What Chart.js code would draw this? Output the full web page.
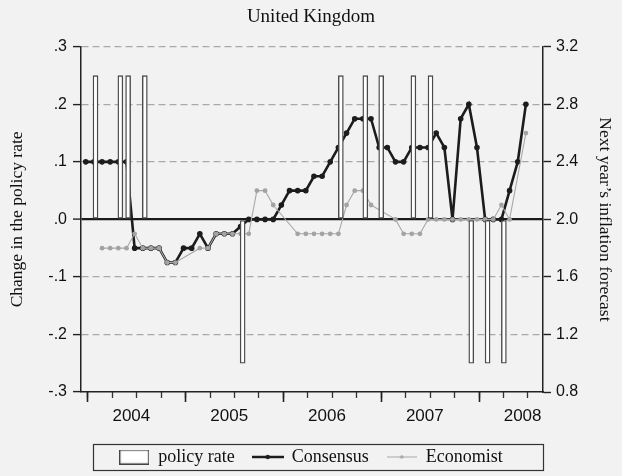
<!DOCTYPE html>
<html><head><meta charset="utf-8">
<script src="https://cdn.jsdelivr.net/npm/chart.js@4.4.1/dist/chart.umd.min.js"></script>
<style>html,body{margin:0;padding:0;background:#f2f2f2;}canvas{display:block;}</style>
</head><body>
<canvas id="c" width="622" height="476"></canvas>
<script>
// ---- data (month index: 0 = Jan 2004) ----
const yearLabels = ['2004','2005','2006','2007','2008'];
const leftTickValues = [-0.3,-0.2,-0.1,0,0.1,0.2,0.3];
const leftTickLabels = ['-.3','-.2','-.1','.0','.1','.2','.3'];
const rightTickValues = [0.8,1.2,1.6,2.0,2.4,2.8,3.2];
const rightTickLabels = ['0.8','1.2','1.6','2.0','2.4','2.8','3.2'];

const policyMonths = [1.2,4.25,5.2,7.25,19.25,31.3,34.3,36.25,40.2,42.3,47.3,49.3,51.3];
const policyChange = [0.25,0.25,0.25,0.25,-0.25,0.25,0.25,0.25,0.25,0.25,-0.25,-0.25,-0.25];

const consensusMonths = [0,1,2,3,4,5,6,7,8,9,10,11,12,13,14,15,16,17,18,19,20,21,22,23,24,25,26,27,28,29,30,31,32,33,34,35,36,37,38,39,40,41,42,43,44,45,46,47,48,49,50,51,52,53,54];
const consensusValues = [2.4,2.4,2.4,2.4,2.4,2.4,1.8,1.8,1.8,1.8,1.7,1.7,1.8,1.8,1.9,1.8,1.9,1.9,1.9,1.95,2.0,2.0,2.0,2.0,2.1,2.2,2.2,2.2,2.3,2.3,2.4,2.5,2.6,2.7,2.7,2.7,2.5,2.5,2.4,2.4,2.5,2.5,2.5,2.6,2.5,2.0,2.7,2.8,2.5,2.0,2.0,2.0,2.2,2.4,2.8];

const economistMonths = [2,3,4,5,6,7,8,9,10,11,14,15,16,17,18,19,20,21,22,23,26,27,28,29,30,31,32,33,34,35,38,39,40,41,42,43,44,45,46,47,48,49,50,51,52,54];
const economistValues = [1.8,1.8,1.8,1.8,1.9,1.8,1.8,1.8,1.7,1.7,1.8,1.8,1.9,1.9,1.9,1.9,1.9,2.2,2.2,2.1,1.9,1.9,1.9,1.9,1.9,1.9,2.1,2.2,2.2,2.1,2.0,1.9,1.9,1.9,2.0,2.0,2.0,2.0,2.0,2.0,2.0,2.0,2.0,2.1,2.0,2.6];

const legendNames = ['policy rate','Consensus','Economist'];

// ---- styling / layout ----
const X_MIN = -0.58, X_MAX = 56.1;
const YEAR_START = 0.25;       // position of 1 Jan 2004 on the month axis
const LABEL_OFFSET = 5.35;     // year label position within the year
const SERIF = 'Liberation Serif';
const SANS = 'Liberation Sans';

Chart.defaults.font.family = SANS;
Chart.defaults.color = '#111';

function makeIcon(w, h, draw) {
  const c = document.createElement('canvas');
  c.width = w; c.height = h;
  draw(c.getContext('2d'));
  return c;
}
const icons = [
  makeIcon(30, 15, g => { g.fillStyle = '#ffffff'; g.fillRect(1,1,28,13); g.strokeStyle = '#444'; g.lineWidth = 1.2; g.strokeRect(0.6,0.6,28.8,13.8); }),
  makeIcon(32, 8, g => { g.strokeStyle = '#1c1c1c'; g.lineWidth = 2.5; g.beginPath(); g.moveTo(0,4); g.lineTo(32,4); g.stroke(); g.fillStyle = '#1c1c1c'; g.beginPath(); g.arc(16,4,2.2,0,7); g.fill(); }),
  makeIcon(30, 8, g => { g.strokeStyle = '#a8a8a8'; g.lineWidth = 1; g.beginPath(); g.moveTo(0,4); g.lineTo(30,4); g.stroke(); g.fillStyle = '#a8a8a8'; g.beginPath(); g.arc(15,4,1.8,0,7); g.fill(); })
];

const isZero = c => c.tick && Math.abs(c.tick.value) < 1e-9;
const isBottom = c => c.tick && Math.abs(c.tick.value - leftTickValues[0]) < 1e-9;

const legendFrame = {
  id: 'legendFrame',
  afterDraw(chart) {
    const lg = chart.legend;
    const hb = lg && lg.legendHitBoxes;
    if (!hb || !hb.length) return;
    const ctx = chart.ctx;
    const top = Math.min(...hb.map(h => h.top)) - 4;
    const bottom = Math.max(...hb.map(h => h.top + h.height)) + 4;
    const left = chart.chartArea.left + 12;
    const right = chart.chartArea.right;
    ctx.save();
    ctx.strokeStyle = '#333';
    ctx.lineWidth = 1.2;
    ctx.strokeRect(Math.round(left) + 0.5, Math.round(top) + 0.5, Math.round(right - left), Math.round(bottom - top));
    ctx.restore();
  }
};

const xCommon = { type: 'linear', position: 'bottom', min: X_MIN, max: X_MAX, offset: false };

new Chart(document.getElementById('c'), {
  type: 'bar',
  data: {
    datasets: [
      {
        type: 'bar', label: legendNames[0], order: 0,
        data: policyMonths.map((m, i) => ({x: m, y: policyChange[i]})),
        xAxisID: 'x', yAxisID: 'y',
        backgroundColor: '#ffffff', borderColor: '#4a4a4a', borderWidth: 1.4,
        borderSkipped: false, barThickness: 5
      },
      {
        type: 'line', label: legendNames[2], order: 1,
        data: economistMonths.map((m, i) => ({x: m, y: economistValues[i]})),
        xAxisID: 'x', yAxisID: 'y2',
        borderColor: '#a8a8a8', backgroundColor: '#a8a8a8', borderWidth: 1.1,
        pointRadius: 2.4, pointBorderWidth: 0, pointBackgroundColor: '#a3a3a3',
        tension: 0, fill: false
      },
      {
        type: 'line', label: legendNames[1], order: 2,
        data: consensusMonths.map((m, i) => ({x: m, y: consensusValues[i]})),
        xAxisID: 'x', yAxisID: 'y2',
        borderColor: '#1c1c1c', backgroundColor: '#1c1c1c', borderWidth: 2.6,
        pointRadius: 2.8, pointBorderWidth: 0, pointBackgroundColor: '#1c1c1c',
        tension: 0, fill: false
      }
    ]
  },
  options: {
    responsive: false,
    animation: false,
    devicePixelRatio: 1,
    layout: { padding: 0 },
    events: [],
    plugins: {
      tooltip: { enabled: false },
      title: {
        display: true, text: 'United Kingdom', color: '#111',
        font: { family: SERIF, size: 19, weight: 'normal' },
        padding: { top: 6, bottom: 18 }
      },
      legend: {
        display: true, position: 'bottom',
        labels: {
          usePointStyle: true, pointStyleWidth: 30, padding: 18, color: '#111',
          font: { family: SERIF, size: 18 },
          generateLabels: () => legendNames.map((t, i) => ({
            text: t, pointStyle: icons[i], fillStyle: 'transparent', strokeStyle: 'transparent',
            lineWidth: 0, hidden: false, datasetIndex: i, fontColor: '#111'
          }))
        }
      }
    },
    scales: {
      x: Object.assign({}, xCommon, {
        weight: 1,
        afterBuildTicks: s => { s.ticks = yearLabels.map((y, i) => ({ value: YEAR_START + 12 * i + LABEL_OFFSET })); },
        afterFit: s => { s.height = 38; },
        ticks: { autoSkip: false, maxRotation: 0, padding: 14, font: { family: SANS, size: 17 }, color: '#111',
                 callback: (v, i) => yearLabels[i] },
        grid: { display: false, drawTicks: false, offset: false },
        border: { display: true, color: '#222', width: 1.5 }
      }),
      xq: Object.assign({}, xCommon, {
        weight: 0,
        afterBuildTicks: s => { const t = []; for (let v = YEAR_START; v <= X_MAX; v += 3) t.push({ value: v }); s.ticks = t; },
        afterFit: s => { s.height = 0; },
        ticks: { display: false },
        grid: { display: true, offset: false, drawOnChartArea: false, drawTicks: true, tickLength: 6, tickColor: '#333', tickWidth: 1.3 },
        border: { display: false }
      }),
      xy: Object.assign({}, xCommon, {
        weight: 0.5,
        afterBuildTicks: s => { const t = []; for (let v = YEAR_START; v <= X_MAX; v += 12) t.push({ value: v }); s.ticks = t; },
        afterFit: s => { s.height = 0; },
        ticks: { display: false },
        grid: { display: true, offset: false, drawOnChartArea: false, drawTicks: true, tickLength: 10, tickColor: '#222', tickWidth: 1.6 },
        border: { display: false }
      }),
      y: {
        type: 'linear', position: 'left', min: -0.3, max: 0.3,
        afterBuildTicks: s => { s.ticks = leftTickValues.map(v => ({ value: v })); },
        afterFit: s => { s.width = 81; },
        ticks: { padding: 6, font: { family: SANS, size: 16 }, color: '#111',
                 callback: (v, i) => leftTickLabels[i] },
        title: { display: true, text: 'Change in the policy rate', color: '#111',
                 font: { family: SERIF, size: 17.5 }, padding: { top: 7, bottom: 0 } },
        grid: {
          drawOnChartArea: true, drawTicks: true, tickLength: 8, tickColor: '#222', tickWidth: 1.4,
          color: c => isZero(c) ? '#1a1a1a' : (isBottom(c) ? 'rgba(0,0,0,0)' : '#a9a9a9'),
          lineWidth: c => isZero(c) ? 2.2 : 1.2
        },
        border: { display: true, color: '#222', width: 1.5,
                  dash: c => (c.tick && !isZero(c)) ? [7, 4] : [] }
      },
      y2: {
        type: 'linear', position: 'right', min: 0.8, max: 3.2,
        afterBuildTicks: s => { s.ticks = rightTickValues.map(v => ({ value: v })); },
        afterFit: s => { s.width = 79; },
        ticks: { padding: 5, font: { family: SANS, size: 16 }, color: '#111',
                 callback: (v, i) => rightTickLabels[i] },
        title: { display: true, text: 'Next year\u2019s inflation forecast', color: '#111',
                 font: { family: SERIF, size: 17.5 }, padding: { top: 7, bottom: 0 } },
        grid: { drawOnChartArea: false, drawTicks: true, tickLength: 8, tickColor: '#222', tickWidth: 1.4 },
        border: { display: true, color: '#222', width: 1.5 }
      }
    }
  },
  plugins: [legendFrame]
});
</script>
</body></html>
